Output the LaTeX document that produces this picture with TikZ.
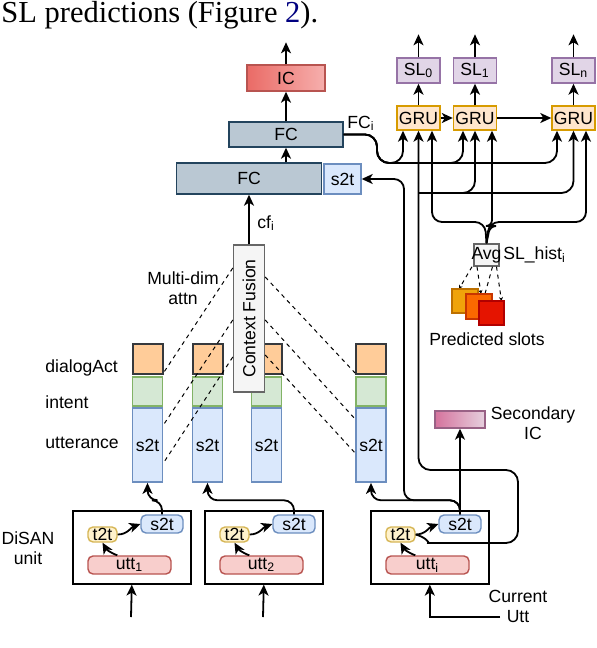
\documentclass[tikz,border=0pt]{standalone}
\usepackage{fontspec}
\setmainfont{Liberation Sans}
\newfontfamily\paperfont{Liberation Serif}
\usetikzlibrary{arrows.meta,calc}
\definecolor{icL}{HTML}{EA6B66}
\definecolor{icR}{HTML}{F6AFAD}
\definecolor{icline}{HTML}{B85450}
\definecolor{fcfill}{HTML}{BAC8D3}
\definecolor{fcline}{HTML}{23445D}
\definecolor{bluefill}{HTML}{DAE8FC}
\definecolor{blueline}{HTML}{6C8EBF}
\definecolor{slfill}{HTML}{E1D5E7}
\definecolor{slline}{HTML}{9673A6}
\definecolor{grufill}{HTML}{FFE6CC}
\definecolor{gruline}{HTML}{D79B00}
\definecolor{dafill}{HTML}{FFCC99}
\definecolor{daline}{HTML}{36393D}
\definecolor{intfill}{HTML}{D5E8D4}
\definecolor{intline}{HTML}{82B366}
\definecolor{t2tfill}{HTML}{FFF2CC}
\definecolor{t2tline}{HTML}{D6B656}
\definecolor{uttfill}{HTML}{F8CECC}
\definecolor{uttline}{HTML}{B85450}
\definecolor{cffill}{HTML}{F5F5F5}
\definecolor{cfline}{HTML}{666666}
\definecolor{secL}{HTML}{D5739D}
\definecolor{secR}{HTML}{E6D0DE}
\definecolor{secline}{HTML}{996185}
\definecolor{psAfill}{HTML}{F0A30A}
\definecolor{psAline}{HTML}{BD7000}
\definecolor{psBfill}{HTML}{FA6800}
\definecolor{psBline}{HTML}{C73500}
\definecolor{psCfill}{HTML}{E51400}
\definecolor{psCline}{HTML}{B20000}
\definecolor{linkblue}{HTML}{000080}
\tikzset{
  sz/.style 2 args={minimum width=#1*0.5pt,minimum height=#2*0.5pt},
  lab/.style={inner sep=1pt,font=\fontsize{8.8}{10}\selectfont},
  box/.style={draw,inner sep=0pt,line width=0.7pt,font=\fontsize{8.8}{10}\selectfont},
  icbox/.style={box,draw=icline,left color=icL,right color=icR},
  fcbox/.style={box,fill=fcfill,draw=fcline},
  s2tbox/.style={box,fill=bluefill,draw=blueline},
  slbox/.style={box,fill=slfill,draw=slline},
  grubox/.style={box,fill=grufill,draw=gruline},
  dabox/.style={box,fill=dafill,draw=daline,line width=1pt},
  intbox/.style={box,fill=intfill,draw=intline,line width=0.9pt},
  utbox/.style={box,fill=bluefill,draw=blueline,line width=0.9pt},
  t2tbox/.style={box,fill=t2tfill,draw=t2tline,rounded corners=2.5pt},
  uttbox/.style={box,fill=uttfill,draw=uttline,rounded corners=2.5pt},
  cfbox/.style={box,fill=cffill,draw=cfline},
  secbox/.style={box,draw=secline,left color=secL,right color=secR},
  unitbox/.style={draw,line width=0.8pt,inner sep=0pt},
  arr/.style={-{Stealth[length=5.5pt,width=5pt,inset=1.5pt]},line width=0.9pt},
  attn/.style={dashed,dash pattern=on 2pt off 2pt,line width=0.5pt},
}
\begin{document}
\begin{tikzpicture}[x=0.5pt,y=-0.5pt]
  \fill[white] (0,0) rectangle (596,648);
  \useasboundingbox (0,0) rectangle (596,648);
  \node[anchor=base west,inner sep=0pt,font=\paperfont\fontsize{15.25}{18}\selectfont] (ctx) at (1,22) {SL predictions (Figure \textcolor{linkblue}{2}).};

  % intent classification head
  \node[icbox,sz={78}{26}] (ic) at (286,78) {IC};
  \node[fcbox,sz={114}{25}] (fc2) at (286,134.5) {FC};
  \node[fcbox,sz={145}{31}] (fc1) at (249,178.5) {FC};
  \node[s2tbox,sz={37}{30}] (s2tfc) at (342.5,179) {s2t};
  \draw[arr] (ic.north) -- ++(0,-22);
  \draw[arr] (fc2.north) -- (ic.south);
  \draw[arr] (fc1.north -| fc2.south) -- (fc2.south);
  \node[lab,anchor=base west] (fclab) at (345,128) {FC\textsubscript{i}};

  % slot labelling head
  \foreach \g/\x/\s in {0/418.5/0, 1/475/1, N/573.5/n} {
    \node[grubox,sz={43}{24}] (gru\g) at (\x,118) {GRU};
    \node[slbox,sz={43}{25}] (sl\g) at (\x,70.5) {SL\textsubscript{\s}};
    \draw[arr] (gru\g) -- (sl\g);
    \draw[arr] (sl\g.north) -- ++(0,-23);
  }
  \draw[arr] (gru0) -- (gru1);
  \draw[arr] (gru1) -- (gruN);
  \foreach \g/\dx in {0/-15.5, 1/-12, N/-16.5}
    \draw[arr,rounded corners=6pt] (fc2.east) -| (377,163) -| ([xshift=\dx*0.5pt]gru\g.south);

  % context columns
  \foreach \c/\x in {1/147.5, 2/207.5, 3/266.5, 4/371} {
    \node[dabox,sz={30}{30}] (da\c) at (\x,359) {};
    \node[intbox,sz={30}{29}] (in\c) at (\x,391.5) {};
    \node[utbox,sz={30}{74}] (ut\c) at (\x,445) {s2t};
  }
  \node[lab,anchor=base west] (ldact) at (43,372) {dialogAct};
  \node[lab,anchor=base west] (lint) at (43,408) {intent};
  \node[lab,anchor=base west] (lutt) at (43,448) {utterance};

  % multi-dim attention
  \node[cfbox,sz={31}{147}] (cf) at (249,318.5) {};
  \node[lab,rotate=90] (cftxt) at (cf) {Context Fusion};
  \foreach \a/\b in {268/373, 320/425, 357/463}
    \draw[attn] (cf.west |- 0,\a) -- (ut1.east |- 0,\b);
  \foreach \a/\b in {277/373, 320/419, 355/453}
    \draw[attn] (cf.east |- 0,\a) -- (ut4.west |- 0,\b);
  \node[lab,align=center] (mdlab) at (183,288) {Multi-dim\\attn};
  \draw[arr] (cf.north) -- (fc1.south);
  \node[lab,anchor=base west] (cflab) at (255,228) {cf\textsubscript{i}};

  % DiSAN units
  \foreach \uid/\ux in {1/72, 2/204, i/370} {
    \node[unitbox,sz={118}{73},anchor=north west] (unit\uid) at (\ux,510) {};
    \node[uttbox,sz={83}{18}] (utt\uid) at (\ux+57.5,565) {utt\textsubscript{\uid}};
    \node[t2tbox,sz={29}{15}] (t2t\uid) at (\ux+30.5,534.5) {t2t};
    \node[s2tbox,sz={42}{18},rounded corners=2.5pt] (s2t\uid) at (\ux+90,524) {s2t};
    \draw[arr] ([xshift=15pt]utt\uid.north west) to[out=160,in=-60] (t2t\uid.south);
    \draw[arr] (t2t\uid.east) to[out=0,in=200] (s2t\uid.west);
  }
  \node[lab,align=center] (disan) at (28,548) {DiSAN\\unit};
  \coordinate (inA) at (131,617);
  \coordinate (inB) at (263,617);
  \coordinate (curin) at (500,617);
  \draw[arr] (inA) -- (unit1.south);
  \draw[arr] (inB) -- (unit2.south);
  \draw[arr] (curin) -| (uniti.south);
  \node[lab,align=center] (curlab) at (518,606) {Current\\Utt};
  \draw[arr,rounded corners=5pt] (s2t1.north) -- ++(0,-14) -| (ut1.south);
  \draw[arr,rounded corners=5pt] (s2t2.north) -- ++(0,-14) -| (ut2.south);

  % current utterance
  \node[secbox,sz={50}{17}] (secic) at (460,419.5) {};
  \node[lab,align=center] (seclab) at (533,423) {Secondary\\IC};
  \draw[arr,line width=0.7pt] (s2ti.north) -- (secic.south);
  \draw[arr,rounded corners=5pt] (s2ti.north) -- ++(0,-14) -| (ut4.south);
  \draw[arr,rounded corners=5pt] (s2ti.north) -- ++(0,-14) -| (404,300) |- (s2tfc.east);
  \draw[arr,rounded corners=6pt] (t2ti.east) to[out=-15,in=180] (440,543) -- (518,543) -- (518,470) -| (gru0.south);
  \coordinate (tj) at (418.5,193);
  \draw[arr,rounded corners=6pt] (tj) -| (gru1.south);
  \draw[arr,rounded corners=6pt] (tj) -| (gruN.south);

  % slot history
  \node[cfbox,sz={25}{22}] (avg) at (486.5,255) {};
  \node[lab,inner sep=0pt] (avgtxt) at (avg) {Avg};
  \node[lab,anchor=west] (hist) at (501,255) {SL\_hist\textsubscript{i}};
  \draw[arr,rounded corners=5pt] (avg.north) -- (485,222) -| ([xshift=6.75pt]gru0.south);
  \draw[arr,rounded corners=5pt] (avg.north) -- (489,222) -| ([xshift=6.25pt]gruN.south);
  \draw[arr,rounded corners=3pt] (avg.north) -- (490,226) -| ([xshift=8.5pt]gru1.south);
  \draw[attn,-{Stealth[length=2pt,width=2pt]}] ([xshift=-7.25pt]avg.south) -- (459,289);
  \draw[attn,-{Stealth[length=2pt,width=2pt]}] ([xshift=-4.75pt]avg.south) -- (481,294);
  \draw[attn,-{Stealth[length=2pt,width=2pt]}] ([xshift=3pt]avg.south) -- (483,301);
  \draw[attn,-{Stealth[length=2pt,width=2pt]}] ([xshift=5pt]avg.south) -- (501.5,301);
  \node[box,fill=psAfill,draw=psAline,sz={26}{24}] (psA) at (465,301) {};
  \node[box,fill=psBfill,draw=psBline,sz={26}{25}] (psB) at (479,306.5) {};
  \node[box,fill=psCfill,draw=psCline,sz={25}{24}] (psC) at (491.5,313) {};
  \node[lab] (pslab) at (487,339) {Predicted slots};
\end{tikzpicture}
\end{document}
